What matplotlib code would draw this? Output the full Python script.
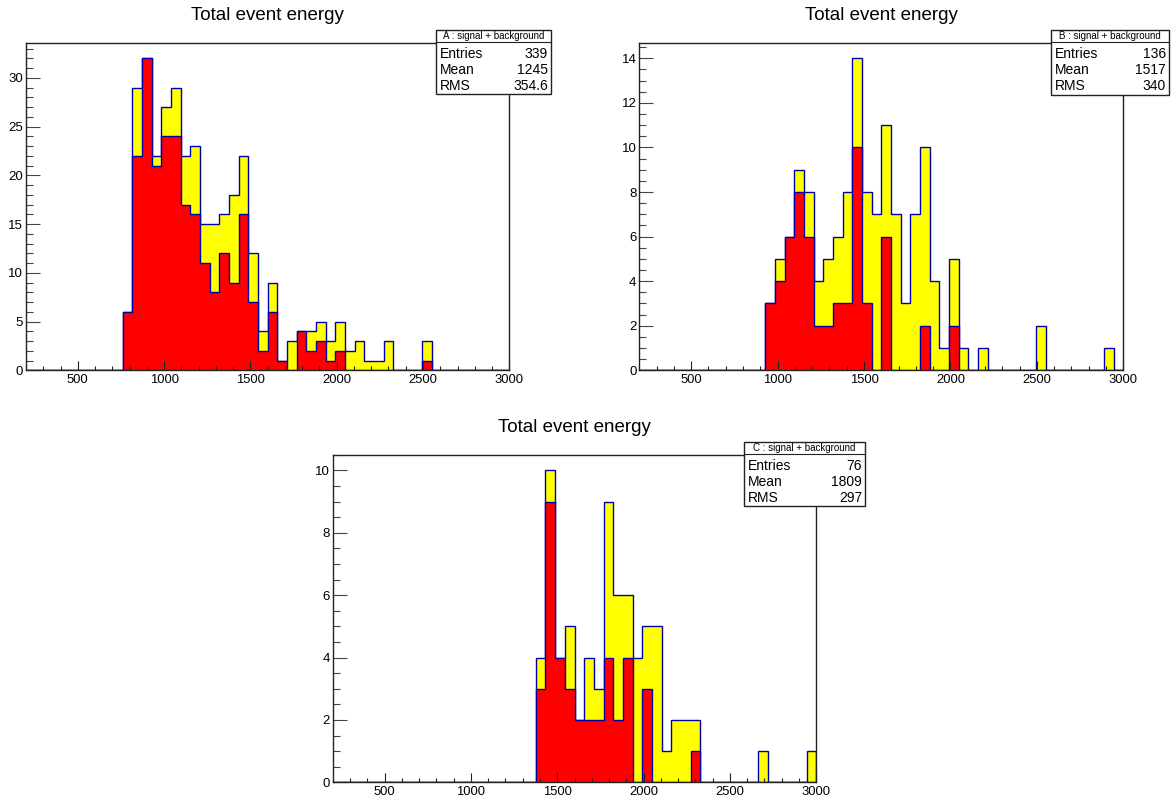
# ROOT-style "Total event energy" histograms, three panels (A, B, C)
import numpy as np
import matplotlib.pyplot as plt
from matplotlib.patches import Rectangle
from matplotlib.ticker import MultipleLocator

plt.rcParams['font.family'] = ['Liberation Sans', 'DejaVu Sans']

# binning: 50 bins between 200 and 3000
x_min = 200
x_max = 3000
n_bins = 50

# counts per bin (total = signal + background, and the red component)
total_a = [0, 0, 0, 0, 0, 0, 0, 0, 0, 0,
           6, 29, 32, 22, 27, 29, 22, 23, 15, 15,
           16, 18, 22, 12, 4, 9, 1, 3, 4, 4,
           5, 3, 5, 2, 3, 1, 1, 3, 0, 0,
           0, 3, 0, 0, 0, 0, 0, 0, 0, 0]
red_a = [0, 0, 0, 0, 0, 0, 0, 0, 0, 0,
         6, 22, 32, 21, 24, 24, 17, 16, 11, 8,
         12, 9, 16, 7, 2, 6, 1, 0, 4, 2,
         3, 1, 2, 0, 0, 0, 0, 0, 0, 0,
         0, 1, 0, 0, 0, 0, 0, 0, 0, 0]

total_b = [0, 0, 0, 0, 0, 0, 0, 0, 0, 0,
           0, 0, 0, 3, 5, 6, 9, 8, 4, 5,
           6, 8, 14, 8, 7, 11, 7, 3, 7, 10,
           4, 1, 5, 1, 0, 1, 0, 0, 0, 0,
           0, 2, 0, 0, 0, 0, 0, 0, 1, 0]
red_b = [0, 0, 0, 0, 0, 0, 0, 0, 0, 0,
         0, 0, 0, 3, 4, 6, 8, 6, 2, 2,
         3, 3, 10, 3, 0, 6, 0, 0, 0, 2,
         0, 0, 2, 0, 0, 0, 0, 0, 0, 0,
         0, 0, 0, 0, 0, 0, 0, 0, 0, 0]

total_c = [0, 0, 0, 0, 0, 0, 0, 0, 0, 0,
           0, 0, 0, 0, 0, 0, 0, 0, 0, 0,
           0, 4, 10, 4, 5, 2, 4, 3, 9, 6,
           6, 4, 5, 5, 1, 2, 2, 2, 0, 0,
           0, 0, 0, 0, 1, 0, 0, 0, 0, 1]
red_c = [0, 0, 0, 0, 0, 0, 0, 0, 0, 0,
         0, 0, 0, 0, 0, 0, 0, 0, 0, 0,
         0, 3, 9, 4, 3, 2, 2, 2, 4, 2,
         4, 0, 3, 0, 0, 0, 0, 1, 0, 0,
         0, 0, 0, 0, 0, 0, 0, 0, 0, 0]

labels = ['A', 'B', 'C']
entries = ['339', '136', '76']
means = ['1245', '1517', '1809']
rms = ['354.6', '340', '297']
y_major = [5, 2, 2]
y_minor = [1, 0.5, 0.5]

W, H = 1171, 798
edges = np.linspace(x_min, x_max, n_bins + 1)
line_blue = '#0000a8'


def draw_panel(fig, rect_px, total, red, label, n_ent, mean, rm, ymaj, ymin,
               box_px):
    '''
    Draw one histogram pad with its title and statistics box.
    rect_px and box_px are (left, top, right, bottom) in figure pixels.
    '''
    l, t, r, b = rect_px
    ax = fig.add_axes([l / W, 1 - b / H, (r - l) / W, (b - t) / H])

    ax.stairs(total, edges, fill=True, facecolor='#ffff00',
              edgecolor=line_blue, linewidth=1.0, baseline=0)
    ax.stairs(red, edges, fill=True, facecolor='#ff0000',
              edgecolor=line_blue, linewidth=1.0, baseline=0)

    ax.set_xlim(x_min, x_max)
    ax.set_ylim(0, 1.05 * max(total))

    ax.xaxis.set_major_locator(MultipleLocator(500))
    ax.xaxis.set_minor_locator(MultipleLocator(100))
    ax.yaxis.set_major_locator(MultipleLocator(ymaj))
    ax.yaxis.set_minor_locator(MultipleLocator(ymin))
    ax.set_xticks([500, 1000, 1500, 2000, 2500, 3000])

    ax.tick_params(axis='x', which='major', direction='in', length=6.7,
                   width=0.8, labelsize=9.4, pad=3, color='#222222')
    ax.tick_params(axis='x', which='minor', direction='in', length=3.2,
                   width=0.8, color='#222222')
    ax.tick_params(axis='y', which='major', direction='in', length=10,
                   width=0.8, labelsize=9.5, pad=2, color='#444444')
    ax.tick_params(axis='y', which='minor', direction='in', length=5,
                   width=0.8, color='#444444')
    for side in ['left', 'right', 'top', 'bottom']:
        ax.spines[side].set_linewidth(1.0)
        ax.spines[side].set_color('#222222')

    fig.text((l + r) / 2 / W, 1 - (t - 27) / H, 'Total event energy',
             ha='center', va='center', fontsize=13.5)

    # statistics box
    bl, bt, br, bb = box_px
    box = Rectangle((bl / W, 1 - bb / H), (br - bl) / W, (bb - bt) / H,
                    transform=fig.transFigure, facecolor='white',
                    edgecolor='#222222', linewidth=1.0, zorder=5)
    fig.add_artist(box)
    hy = bt + 11.5
    fig.add_artist(plt.Line2D([bl / W, br / W], [1 - hy / H, 1 - hy / H],
                              transform=fig.transFigure, color='#222222',
                              linewidth=0.8, zorder=6))
    fig.text((bl + br) / 2 / W, 1 - (bt + 6) / H,
             label + ' : signal + background', ha='center', va='center',
             fontsize=7, zorder=7)
    rows = [('Entries', n_ent), ('Mean', mean), ('RMS', rm)]
    for i, (name, val) in enumerate(rows):
        yy = 1 - (bt + 23.5 + i * 16) / H
        fig.text((bl + 4) / W, yy, name, ha='left', va='center',
                 fontsize=10, zorder=7)
        fig.text((br - 3) / W, yy, val, ha='right', va='center',
                 fontsize=10, zorder=7)
    return ax


fig = plt.figure(figsize=(W / 100, H / 100), dpi=100)

panels = [
    ((26, 42.7, 509.3, 370.3), (436, 30, 551, 94)),
    ((639.3, 42.7, 1123.3, 370.3), (1051, 30, 1169, 94.5)),
    ((332.7, 454.7, 816.3, 782.3), (744, 442, 865, 506)),
]
totals = [total_a, total_b, total_c]
reds = [red_a, red_b, red_c]

for i, (rect_px, box_px) in enumerate(panels):
    draw_panel(fig, rect_px, totals[i], reds[i], labels[i], entries[i],
               means[i], rms[i], y_major[i], y_minor[i], box_px)

fig.savefig('out.png', dpi=100)
